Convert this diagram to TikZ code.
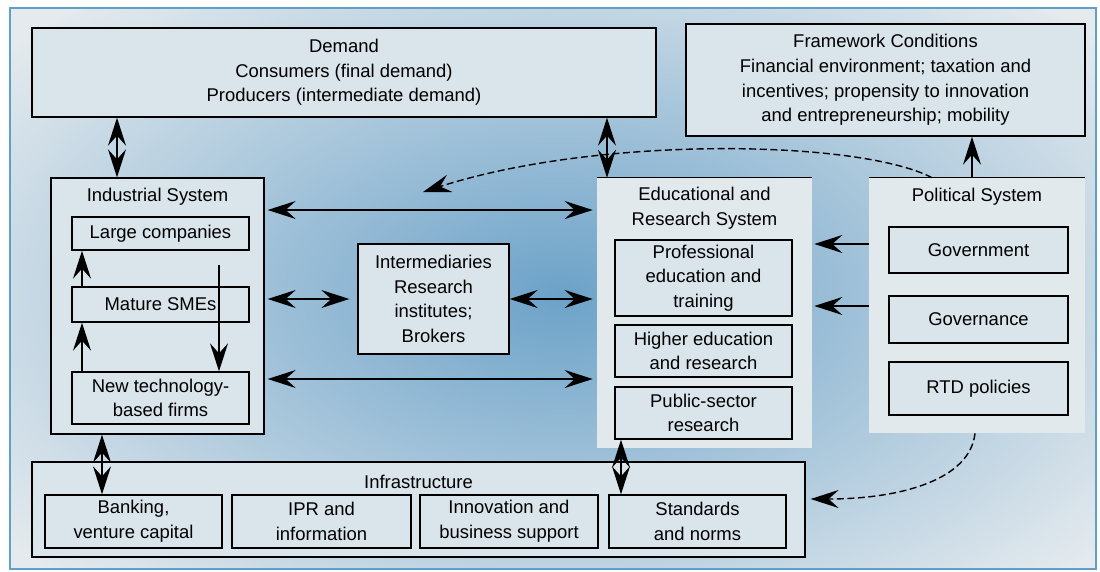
\documentclass[tikz,border=0pt]{standalone}
\usepackage{fontspec}
\setmainfont{Liberation Sans}
\usetikzlibrary{arrows.meta}

\definecolor{framerim}{RGB}{95,160,200}
\definecolor{skyin}{RGB}{108,162,200}
\definecolor{skyout}{RGB}{228,234,238}
\definecolor{boxfill}{RGB}{217,228,235}
\definecolor{panelfill}{RGB}{226,233,237}

\begin{document}
\begin{tikzpicture}[x=0.02cm, y=-0.02cm,
  font=\fontsize{10.5}{14}\selectfont,
  sysbox/.style={draw=black, line width=0.8pt, fill=boxfill, align=center, inner sep=1pt},
  syspanel/.style={fill=panelfill, inner sep=0pt},
  oneway/.style={line width=0.7pt, -{Stealth[length=0.56cm, width=0.36cm, inset=0.2cm]}},
  twoway/.style={line width=0.7pt, {Stealth[length=0.56cm, width=0.36cm, inset=0.2cm]}-{Stealth[length=0.56cm, width=0.36cm, inset=0.2cm]}},
  policyflow/.style={oneway, line width=0.8pt, dash pattern=on 4pt off 2pt}]
\useasboundingbox (0,0) rectangle (1100,572);

% background with the blue glow in the middle
\fill [white] (0,0) rectangle (1100,572);
\fill [skyout] (10,8) rectangle (1096,569);
\begin{scope}
\clip (10,8) rectangle (1096,569);
\shade [inner color=skyin, outer color=skyout] (560,295) ellipse [x radius=14cm, y radius=8cm];
\end{scope}
\draw [framerim, line width=1.2pt] (10,8) rectangle (1096,569);

% demand and framework conditions
\node (demand) [sysbox, at = {(344,72.5)}, minimum width=12.48cm, minimum height=1.78cm]
  {Demand\\Consumers (final demand)\\Producers (intermediate demand)};
\node (cond) [sysbox, at = {(885.5,80)}, minimum width=7.98cm, minimum height=2.24cm]
  {Framework Conditions\\Financial environment; taxation and\\incentives; propensity to innovation\\and entrepreneurship; mobility};

% industrial system
\node (indsys) [sysbox, at = {(157.5,306)}, minimum width=4.26cm, minimum height=5.12cm] {};
\node (indtitle) [at = {(157.5,197)}] {Industrial System};
\node (large) [sysbox, at = {(160.5,233.5)}, minimum width=3.54cm, minimum height=0.66cm] {Large companies};
\node (smes) [sysbox, at = {(160.5,304.5)}, minimum width=3.54cm, minimum height=0.7cm] {Mature SMEs};
\node (ntbf) [sysbox, at = {(160.5,398)}, minimum width=3.54cm, minimum height=1.04cm] {New technology-\\based firms};

% intermediaries
\node (inter) [sysbox, at = {(433.5,299)}, minimum width=3.02cm, minimum height=2.2cm]
  {Intermediaries\\Research\\institutes;\\Brokers};

% educational and research system
\node (edu) [syspanel, at = {(704.5,313)}, minimum width=4.3cm, minimum height=5.4cm] {};
\draw [line width=0.8pt] (edu.north west) -- (edu.north east);
\node (edutitle) [at = {(704.5,208.5)}, align=center] {Educational and\\Research System};
\node (prof) [sysbox, at = {(703.5,278)}, minimum width=3.54cm, minimum height=1.52cm] {Professional\\education and\\training};
\node (higher) [sysbox, at = {(703.5,351)}, minimum width=3.54cm, minimum height=1.04cm] {Higher education\\and research};
\node (public) [sysbox, at = {(703.5,413)}, minimum width=3.54cm, minimum height=1.04cm] {Public-sector\\research};

% political system
\node (pol) [syspanel, at = {(977,305.5)}, minimum width=4.32cm, minimum height=5.1cm] {};
\draw [line width=0.8pt] (pol.north west) -- (pol.north east);
\node (poltitle) [at = {(977,197)}] {Political System};
\node (gov) [sysbox, at = {(978.5,250)}, minimum width=3.58cm, minimum height=0.92cm] {Government};
\node (govern) [sysbox, at = {(978.5,319.5)}, minimum width=3.58cm, minimum height=0.94cm] {Governance};
\node (rtd) [sysbox, at = {(978.5,388.5)}, minimum width=3.58cm, minimum height=1.06cm] {RTD policies};

% infrastructure
\node (infra) [sysbox, at = {(418.5,509.5)}, minimum width=15.46cm, minimum height=1.9cm] {};
\node (infratitle) [at = {(418.5,482)}] {Infrastructure};
\node (bank) [sysbox, at = {(133.5,521.5)}, minimum width=3.54cm, minimum height=1.06cm] {Banking,\\venture capital};
\node (ipr) [sysbox, at = {(321.5,521.5)}, minimum width=3.58cm, minimum height=1.06cm] {IPR and\\information};
\node (innov) [sysbox, at = {(509,521.5)}, minimum width=3.56cm, minimum height=1.06cm] {Innovation and\\business support};
\node (norms) [sysbox, at = {(697.5,521.5)}, minimum width=3.54cm, minimum height=1.06cm] {Standards\\and norms};

% where the links run
\coordinate (demL) at (117,0);
\coordinate (demR) at (607,0);
\coordinate (finL) at (102,0);
\coordinate (finR) at (621,0);
\coordinate (polUp) at (972,0);
\coordinate (rowA) at (0,210);
\coordinate (rowB) at (0,379);
\coordinate (govA) at (0,244);
\coordinate (govB) at (0,306);
\coordinate (climb) at (82,0);
\coordinate (droptop) at (219,265);
\coordinate (policyend) at (423,192);

% links
\draw [twoway] (demand.south -| demL) -- (indsys.north -| demL);
\draw [twoway] (demand.south -| demR) -- (edu.north -| demR);
\draw [twoway] (indsys.south -| finL) -- (bank.north -| finL);
\draw [twoway] (public.south -| finR) -- (norms.north -| finR);
\draw [oneway] (pol.north -| polUp) -- (cond.south -| polUp);
\draw [twoway, shorten <=0.06cm, shorten >=0.08cm] (indsys.east |- rowA) -- (edu.west |- rowA);
\draw [twoway, shorten <=0.06cm, shorten >=0.08cm] (indsys.east |- rowB) -- (edu.west |- rowB);
\draw [twoway, shorten <=0.06cm, shorten >=0.16cm] (indsys.east |- inter.west) -- (inter.west);
\draw [twoway, shorten >=0.08cm] (inter.east) -- (edu.west |- inter.east);
\draw [oneway, shorten >=0.04cm] (pol.west |- govA) -- (edu.east |- govA);
\draw [oneway, shorten >=0.04cm] (pol.west |- govB) -- (edu.east |- govB);
\draw [oneway] (ntbf.north -| climb) -- (smes.south -| climb);
\draw [oneway] (smes.north -| climb) -- (large.south -| climb);
\draw [oneway] (droptop) -- (ntbf.north -| droptop);
\draw [policyflow] ([xshift=-0.9cm]pol.north) .. controls (860,140) and (600,135) .. (policyend);
\draw [policyflow] ([xshift=-0.04cm]pol.south) .. controls (970,480) and (900,499) .. ([xshift=0.1cm, yshift=0.21cm]infra.east);
\end{tikzpicture}
\end{document}
